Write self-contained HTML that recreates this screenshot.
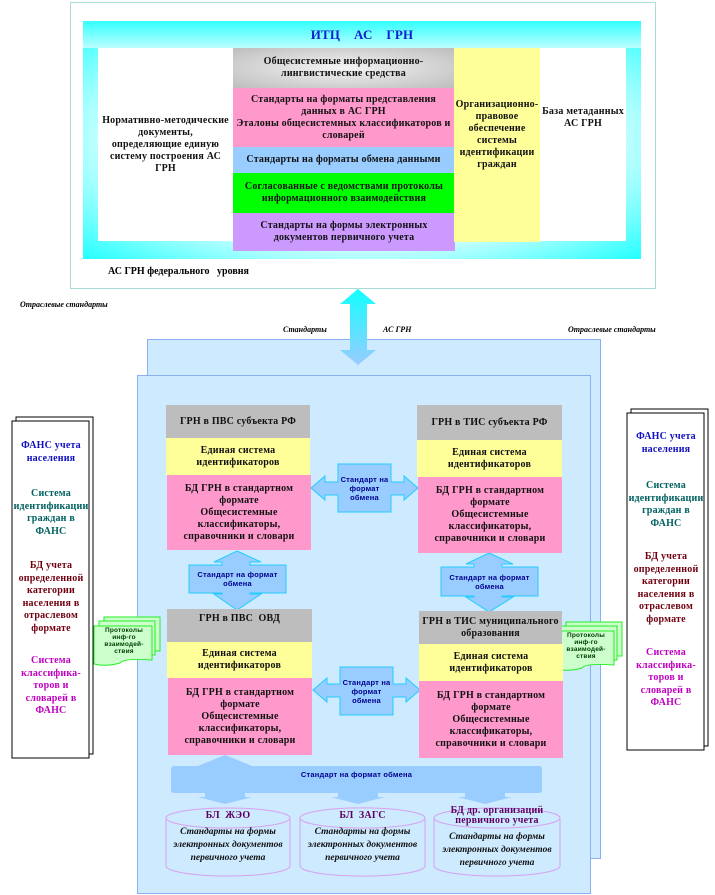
<!DOCTYPE html>
<html><head><meta charset="utf-8"><style>
*{margin:0;padding:0;box-sizing:border-box}
body{width:715px;height:895px;position:relative;background:#fff;font-family:"Liberation Serif","DejaVu Serif",serif;overflow:hidden}
.a{position:absolute}
.c{display:flex;align-items:center;justify-content:center;text-align:center;font-weight:bold;font-size:10px;line-height:1.2;color:#111;letter-spacing:0.2px}
.i{font-style:italic;font-weight:bold;font-size:8px}
.ss{font-family:"Liberation Sans",sans-serif;color:#00008b;font-size:7px;font-weight:bold}
.d{font-size:10px;line-height:1.25;padding:0 2px}
</style></head><body>
<div class="a" style="left:70px;top:2px;width:586px;height:287px;border:1px solid #a8dcd6"></div>
<div class="a" style="left:83px;top:21px;width:558px;height:238px;background:radial-gradient(ellipse at center,#dfffff 60%,#2ff 100%)"></div>
<div class="a c" style="left:83px;top:21px;width:558px;height:27px;color:#1020d0;font-size:13px;background:linear-gradient(#3ff,#bff)">ИТЦ&nbsp;&nbsp;&nbsp;&nbsp;АС&nbsp;&nbsp;&nbsp;&nbsp;ГРН</div>
<div class="a c" style="left:98px;top:48px;width:135px;height:193px;background:#fff;padding:0 4px">Нормативно-методические документы, определяющие единую систему построения АС ГРН</div>
<div class="a c" style="left:233px;top:48px;width:221px;height:40px;background:radial-gradient(ellipse,#f4f4f4,#bdbdbd);padding:0 10px">Общесистемные информационно-лингвистические средства</div>
<div class="a c" style="left:233px;top:88px;width:221px;height:59px;background:#f9c">Стандарты на форматы представления данных в АС ГРН<br>Эталоны общесистемных классификаторов и словарей</div>
<div class="a c" style="left:233px;top:147px;width:221px;height:26px;background:#9cf">Стандарты на форматы обмена данными</div>
<div class="a c" style="left:233px;top:173px;width:222px;height:40px;background:#0f0">Согласованные с ведомствами протоколы информационного взаимодействия</div>
<div class="a c" style="left:233px;top:213px;width:222px;height:38px;background:#c9f;padding:0 12px">Стандарты на формы электронных документов первичного учета</div>
<div class="a c" style="left:454px;top:48px;width:86px;height:194px;background:#ff9;padding-bottom:20px">Организационно-правовое обеспечение системы идентификации граждан</div>
<div class="a c" style="left:540px;top:48px;width:86px;height:193px;background:#fff;align-items:flex-start;padding-top:58px">База метаданных АС ГРН</div>
<div class="a" style="left:108px;top:266px;font-weight:bold;font-size:10px">АС ГРН федерального&nbsp;&nbsp; уровня</div>

<div class="a i" style="left:20px;top:300px">Отраслевые стандарты</div>
<div class="a i" style="left:283px;top:325px">Стандарты</div>
<div class="a i" style="left:383px;top:325px">АС ГРН</div>
<div class="a i" style="left:568px;top:325px">Отраслевые стандарты</div>

<div class="a" style="left:147px;top:339px;width:454px;height:520px;background:#cdeaff;border:1px solid #8ab0f0"></div>
<div class="a" style="left:137px;top:375px;width:454px;height:519px;background:#cdeaff;border:1px solid #8ab0f0"></div>

<svg class="a" style="left:0;top:0" width="715" height="895">
<defs><linearGradient id="g" x1="0" y1="0" x2="0" y2="1"><stop offset="0" stop-color="#1ff"/><stop offset="1" stop-color="#9cf"/></linearGradient></defs>
<polygon points="358,289 376,304 367,304 367,350 376,350 358,365 340,350 350,350 350,304 340,304" fill="url(#g)"/>
<g fill="#9cf" stroke="#2cf" stroke-width="1">
<polygon points="311,488 325,476 325,482 338,482 338,464 391,464 391,482 404,482 404,476 418,488 404,500 404,495 391,495 391,512 338,512 338,495 325,495 325,500"/>
<polygon points="313,690 327,678 327,684 340,684 340,667 393,667 393,684 406,684 406,678 420,690 406,702 406,697 393,697 393,715 340,715 340,697 327,697 327,702"/>
<polygon points="237,551 261,562 250,562 250,565 286,565 286,593 250,593 250,594 261,594 237,610 214,594 222,594 222,593 189,593 189,565 222,565 222,562 214,562"/>
<polygon points="489,553 513,564 502,564 502,567 538,567 538,596 502,596 502,597 513,597 489,612 466,597 474,597 474,596 441,596 441,567 474,567 474,564 466,564"/>
</g>
<g fill="#9cf">
<polygon points="225,755 252,766 198,766"/>
<rect x="171" y="766" width="371" height="27" rx="3"/>
<polygon points="205,793 245,793 245,797 252,797 225,804 198,797 205,797"/>
<polygon points="338,793 378,793 378,797 385,797 358,804 331,797 338,797"/>
<polygon points="465,793 505,793 505,797 512,797 485,804 458,797 465,797"/>
</g>
<g fill="none" stroke="#d8a0f0" stroke-width="1">
<path d="M166,818 A62,10 0 0 1 290,818 V866 A62,10 0 0 1 166,866 Z M166,818 A62,10 0 0 0 290,818"/>
<path d="M300,818 A62,10 0 0 1 425,818 V866 A62,10 0 0 1 300,866 Z M300,818 A62,10 0 0 0 425,818"/>
<path d="M434,818 A63,10 0 0 1 560,818 V866 A63,10 0 0 1 434,866 Z M434,818 A63,10 0 0 0 560,818"/>
</g>
<rect x="16" y="417" width="77" height="337" fill="#fff" stroke="#000"/>
<rect x="12" y="421" width="77" height="337" fill="#fff" stroke="#000"/>
<rect x="631" y="409" width="77" height="337" fill="#fff" stroke="#000"/>
<rect x="627" y="413" width="77" height="337" fill="#fff" stroke="#000"/>
<g fill="#cfc" stroke="#2e2" stroke-width="1">
<rect x="104" y="617" width="56" height="34"/>
<rect x="99" y="621" width="56" height="34"/>
<path d="M94,626 H152 V660 Q123,658 120,663 Q106,667 94,664 Z"/>
<rect x="566" y="622" width="56" height="34"/>
<rect x="561" y="626" width="56" height="34"/>
<path d="M556,631 H614 V665 Q585,663 582,668 Q568,672 556,669 Z"/>
</g>
</svg>
<div class="a ss c" style="left:338px;top:464px;width:53px;height:48px;color:#00008b;font-size:7.5px">Стандарт на формат обмена</div>
<div class="a ss c" style="left:340px;top:667px;width:53px;height:48px;color:#00008b;font-size:7.5px">Стандарт на формат обмена</div>
<div class="a ss c" style="left:189px;top:565px;width:97px;height:28px;color:#00008b;font-size:7.5px">Стандарт на формат обмена</div>
<div class="a ss c" style="left:441px;top:567px;width:97px;height:29px;color:#00008b;font-size:7.5px">Стандарт на формат обмена</div>
<div class="a ss c" style="left:171px;top:766px;width:371px;height:16px;color:#00008b;font-size:7.5px">Стандарт на формат обмена</div>

<div class="a c" style="left:166px;top:405px;width:144px;height:33px;background:#bdbdbd">ГРН в ПВС субъекта РФ</div>
<div class="a c" style="left:166px;top:438px;width:144px;height:37px;background:#ff9;padding:0 18px">Единая система идентификаторов</div>
<div class="a c" style="left:167px;top:475px;width:144px;height:75px;background:#f9c;padding:0 8px">БД ГРН в стандартном формате<br>Общесистемные классификаторы, справочники и словари</div>
<div class="a c" style="left:417px;top:405px;width:145px;height:35px;background:#bdbdbd">ГРН в ТИС субъекта РФ</div>
<div class="a c" style="left:417px;top:440px;width:145px;height:37px;background:#ff9;padding:0 18px">Единая система идентификаторов</div>
<div class="a c" style="left:418px;top:477px;width:144px;height:76px;background:#f9c;padding:0 8px">БД ГРН в стандартном формате<br>Общесистемные классификаторы, справочники и словари</div>
<div class="a c" style="left:167px;top:609px;width:145px;height:33px;background:#bdbdbd;align-items:flex-start;padding-top:4px">ГРН в ПВС&nbsp; ОВД</div>
<div class="a c" style="left:167px;top:642px;width:145px;height:36px;background:#ff9;padding:0 18px">Единая система идентификаторов</div>
<div class="a c" style="left:168px;top:678px;width:144px;height:77px;background:#f9c;padding:0 8px">БД ГРН в стандартном формате<br>Общесистемные классификаторы, справочники и словари</div>
<div class="a c" style="left:419px;top:611px;width:143px;height:33px;background:#bdbdbd">ГРН в ТИС муниципального образования</div>
<div class="a c" style="left:419px;top:644px;width:144px;height:37px;background:#ff9;padding:0 18px">Единая система идентификаторов</div>
<div class="a c" style="left:419px;top:681px;width:144px;height:77px;background:#f9c;padding:0 8px">БД ГРН в стандартном формате<br>Общесистемные классификаторы, справочники и словари</div>

<div class="a c" style="left:166px;top:810px;width:124px;color:#600060">БЛ&nbsp; ЖЭО</div>
<div class="a c" style="left:300px;top:810px;width:125px;color:#600060">БЛ&nbsp; ЗАГС</div>
<div class="a c" style="left:434px;top:806px;width:126px;color:#600060;line-height:1">БД др. организаций первичного учета</div>
<div class="a c" style="left:164px;top:826px;width:128px;font-style:italic;font-size:9.5px;line-height:1.35;letter-spacing:0">Стандарты на формы электронных документов первичного учета</div>
<div class="a c" style="left:298px;top:826px;width:129px;font-style:italic;font-size:9.5px;line-height:1.35;letter-spacing:0">Стандарты на формы электронных документов первичного учета</div>
<div class="a c" style="left:432px;top:831px;width:130px;font-style:italic;font-size:9.5px;line-height:1.35;letter-spacing:0">Стандарты на формы электронных документов первичного учета</div>

<div class="a c d" style="left:13px;top:440px;width:76px;color:#1010c0">ФАНС учета населения</div>
<div class="a c d" style="left:13px;top:488px;width:76px;color:#006060">Система идентификации граждан в ФАНС</div>
<div class="a c d" style="left:13px;top:560px;width:76px;color:#700010">БД учета определенной категории населения в отраслевом формате</div>
<div class="a c d" style="left:13px;top:655px;width:76px;color:#c000c0">Система классифика-торов и словарей в ФАНС</div>
<div class="a c d" style="left:628px;top:431px;width:76px;color:#1010c0">ФАНС учета населения</div>
<div class="a c d" style="left:628px;top:480px;width:76px;color:#006060">Система идентификации граждан в ФАНС</div>
<div class="a c d" style="left:628px;top:551px;width:76px;color:#700010">БД учета определенной категории населения в отраслевом формате</div>
<div class="a c d" style="left:628px;top:647px;width:76px;color:#c000c0">Система классифика-торов и словарей в ФАНС</div>
<div class="a ss c" style="left:96px;top:625px;width:56px;height:32px;color:#004000;font-size:6.5px;line-height:1.1">Протоколы инф-го взаимодей-ствия</div>
<div class="a ss c" style="left:558px;top:630px;width:56px;height:32px;color:#004000;font-size:6.5px;line-height:1.1">Протоколы инф-го взаимодей-ствия</div>
</body></html>
